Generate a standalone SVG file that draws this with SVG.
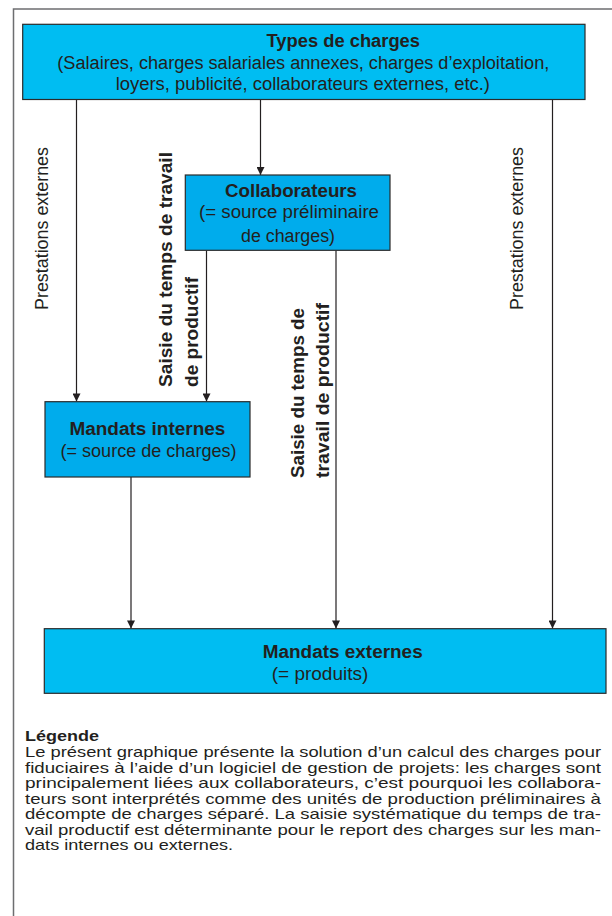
<svg xmlns="http://www.w3.org/2000/svg" width="612" height="916" viewBox="0 0 612 916">
  <defs>
    <style>
      .frame { fill: none; stroke: #6d6e70; stroke-width: 1.5; }
      .box { stroke: #2b2b2b; stroke-width: 1.2; }
      .light { fill: #00bdf2; }
      .dark { fill: #00acec; }
      .conn { fill: none; stroke: #231f20; stroke-width: 1.2; marker-end: url(#arrow); }
      text { font-family: "Liberation Sans", Arial, sans-serif; fill: #231f20; }
      .t { font-size: 18px; }
      .b { font-size: 18px; font-weight: bold; }
      .rot { font-size: 18px; }
      .rotb { font-size: 19px; font-weight: bold; }
      .leg { font-size: 15px; }
      .legb { font-size: 15px; font-weight: bold; }
    </style>
    <marker id="arrow" markerUnits="userSpaceOnUse" viewBox="0 0 10 10" refX="10" refY="5" markerWidth="9" markerHeight="8" orient="auto">
      <path d="M0,0 L10,5 L0,10 z" fill="#231f20"/>
    </marker>
  </defs>

  <rect width="612" height="916" fill="#ffffff"/>
  <path class="frame" d="M13.5,916 V9 H612"/>

  <g id="connectors">
    <line class="conn" x1="76.5" y1="99.5" x2="76.5" y2="401.5"/>
    <line class="conn" x1="260.5" y1="99.5" x2="260.5" y2="175"/>
    <line class="conn" x1="206.5" y1="250.5" x2="206.5" y2="401.5"/>
    <line class="conn" x1="336" y1="250.5" x2="336" y2="628.5"/>
    <line class="conn" x1="552.5" y1="99.5" x2="552.5" y2="628.5"/>
    <line class="conn" x1="131" y1="477" x2="131" y2="628.5"/>
    <text class="rot" transform="translate(48,310) rotate(-90)" textLength="163" lengthAdjust="spacingAndGlyphs">Prestations externes</text>
    <text class="rot" transform="translate(523,310) rotate(-90)" textLength="163" lengthAdjust="spacingAndGlyphs">Prestations externes</text>
    <text class="rotb" transform="translate(172,387) rotate(-90)" textLength="235" lengthAdjust="spacingAndGlyphs">Saisie du temps de travail</text>
    <text class="rotb" transform="translate(197.5,387) rotate(-90)" textLength="110" lengthAdjust="spacingAndGlyphs">de productif</text>
    <text class="rotb" transform="translate(303.5,478) rotate(-90)" textLength="170" lengthAdjust="spacingAndGlyphs">Saisie du temps de</text>
    <text class="rotb" transform="translate(328.5,478) rotate(-90)" textLength="175" lengthAdjust="spacingAndGlyphs">travail de productif</text>
  </g>

  <g id="types-de-charges">
    <rect class="box light" x="22.7" y="24.3" width="562.3" height="75.2"/>
    <text class="b" x="266.5" y="46.5" textLength="153.5" lengthAdjust="spacingAndGlyphs">Types de charges</text>
    <text class="t" x="57.3" y="68.5" textLength="492" lengthAdjust="spacingAndGlyphs">(Salaires, charges salariales annexes, charges d’exploitation,</text>
    <text class="t" x="115.7" y="89.5" textLength="374.3" lengthAdjust="spacingAndGlyphs">loyers, publicité, collaborateurs externes, etc.)</text>
  </g>

  <g id="collaborateurs">
    <rect class="box dark" x="185.3" y="175" width="204.7" height="75.3"/>
    <text class="b" x="225" y="196.5" textLength="132" lengthAdjust="spacingAndGlyphs">Collaborateurs</text>
    <text class="t" x="199" y="218" textLength="180" lengthAdjust="spacingAndGlyphs">(= source préliminaire</text>
    <text class="t" x="241" y="241.5" textLength="94" lengthAdjust="spacingAndGlyphs">de charges)</text>
  </g>

  <g id="mandats-internes">
    <rect class="box dark" x="45" y="401.7" width="205" height="75.3"/>
    <text class="b" x="69.4" y="435" textLength="156" lengthAdjust="spacingAndGlyphs">Mandats internes</text>
    <text class="t" x="60.5" y="457" textLength="176" lengthAdjust="spacingAndGlyphs">(= source de charges)</text>
  </g>

  <g id="mandats-externes">
    <rect class="box light" x="44.3" y="628.7" width="561.7" height="64.6"/>
    <text class="b" x="262.7" y="658" textLength="160" lengthAdjust="spacingAndGlyphs">Mandats externes</text>
    <text class="t" x="271.7" y="680" textLength="96.6" lengthAdjust="spacingAndGlyphs">(= produits)</text>
  </g>

  <g id="legende">
    <text class="legb" x="25" y="741" textLength="74" lengthAdjust="spacingAndGlyphs">Légende</text>
    <text class="leg" x="25" y="757" textLength="576" lengthAdjust="spacingAndGlyphs">Le présent graphique présente la solution d’un calcul des charges pour</text>
    <text class="leg" x="25" y="772.5" textLength="576" lengthAdjust="spacingAndGlyphs">fiduciaires à l’aide d’un logiciel de gestion de projets: les charges sont</text>
    <text class="leg" x="25" y="788" textLength="576" lengthAdjust="spacingAndGlyphs">principalement liées aux collaborateurs, c’est pourquoi les collabora-</text>
    <text class="leg" x="25" y="803.5" textLength="576" lengthAdjust="spacingAndGlyphs">teurs sont interprétés comme des unités de production préliminaires à</text>
    <text class="leg" x="25" y="819" textLength="576" lengthAdjust="spacingAndGlyphs">décompte de charges séparé. La saisie systématique du temps de tra-</text>
    <text class="leg" x="25" y="834.5" textLength="576" lengthAdjust="spacingAndGlyphs">vail productif est déterminante pour le report des charges sur les man-</text>
    <text class="leg" x="25" y="850" textLength="208" lengthAdjust="spacingAndGlyphs">dats internes ou externes.</text>
  </g>
</svg>
